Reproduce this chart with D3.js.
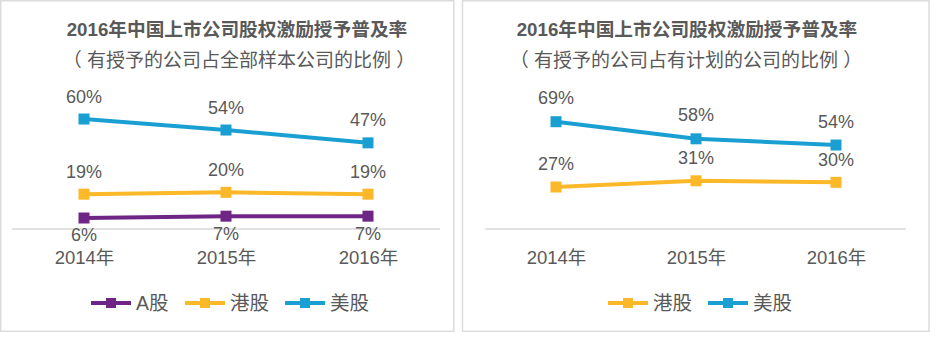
<!DOCTYPE html>
<html><head><meta charset="utf-8">
<script src="https://cdn.jsdelivr.net/npm/d3@7"></script>
<style>
html,body{margin:0;padding:0;background:#fff;}
text{font-family:"Liberation Sans",Arial,"Noto Sans CJK SC",sans-serif;fill:#595959;}
</style></head>
<body><svg id="c" width="940" height="359"></svg>
<script>
const years = ["2014年", "2015年", "2016年"];
const aShare = [0.06, 0.07, 0.07];
const hkAll = [0.19, 0.20, 0.19];
const usAll = [0.60, 0.54, 0.47];
const hkPlan = [0.27, 0.31, 0.30];
const usPlan = [0.69, 0.58, 0.54];
const title = "2016年中国上市公司股权激励授予普及率";
const subLeft = "（ 有授予的公司占全部样本公司的比例 ）";
const subRight = "（ 有授予的公司占有计划的公司的比例 ）";
const C = {a: "#6E2585", hk: "#FBB829", us: "#1A9FD3"};

const svg = d3.select("#c");
const fmt = d3.format(".0%");

function panel(cfg) {
  const g = svg.append("g");
  g.append("rect").attr("x", cfg.bx).attr("y", 0.75).attr("width", cfg.bw).attr("height", 330.5)
    .attr("fill", "#fff").attr("stroke", "#DCDCDC").attr("stroke-width", 1.5);
  g.append("text").attr("x", cfg.tc).attr("y", 36).attr("text-anchor", "middle")
    .attr("font-size", 18.7).attr("font-weight", "bold")
    .text(title);
  g.append("text").attr("x", cfg.sc).attr("y", 67).attr("text-anchor", "middle")
    .attr("font-size", 19)
    .text(cfg.sub);
  const x = d3.scalePoint().domain(years).range(cfg.xr);
  const y = d3.scaleLinear().domain([0, cfg.ymax]).range([229, 229 - cfg.h]);
  g.append("line").attr("x1", cfg.ax[0]).attr("x2", cfg.ax[1]).attr("y1", 229).attr("y2", 229)
    .attr("stroke", "#D9D9D9").attr("stroke-width", 1.5);
  const xa = g.append("g").attr("transform", "translate(0,229)")
    .call(d3.axisBottom(x).tickSize(0).tickPadding(22));
  xa.select(".domain").remove();
  xa.selectAll("text").attr("font-size", 18.5).attr("fill", "#595959")
    .style("font-family", '"Liberation Sans",Arial,"Noto Sans CJK SC",sans-serif');
  const line = d3.line().x((d, i) => x(years[i])).y(d => y(d));
  cfg.series.forEach(s => {
    g.append("path").datum(s.values).attr("d", line).attr("fill", "none")
      .attr("stroke", s.color).attr("stroke-width", 4);
    g.selectAll(null).data(s.values).enter().append("rect")
      .attr("x", (d, i) => x(years[i]) - 5.5).attr("y", d => y(d) - 5.5)
      .attr("width", 11).attr("height", 11).attr("fill", s.color);
    g.selectAll(null).data(s.values).enter().append("text")
      .attr("x", (d, i) => x(years[i])).attr("y", d => y(d) + s.dy)
      .attr("dy", "0.36em").attr("text-anchor", "middle").attr("font-size", 18)
      .text(d => fmt(d));
  });
  // legend
  let lx = cfg.lx;
  cfg.series.forEach(s => {
    g.append("line").attr("x1", lx).attr("x2", lx + 40).attr("y1", 303).attr("y2", 303)
      .attr("stroke", s.color).attr("stroke-width", 4);
    g.append("rect").attr("x", lx + 15).attr("y", 298).attr("width", 10).attr("height", 10).attr("fill", s.color);
    g.append("text").attr("x", lx + 45).attr("y", 303).attr("dy", "0.36em").attr("font-size", 19.5).text(s.name);
    lx += 45 + (s.name === "A股" ? 49 : 55);
  });
}

panel({bx: 0.75, bw: 453, tc: 237, sc: 239, sub: subLeft, xr: [84, 368], ax: [12, 440], ymax: 0.7, h: 128.3, lx: 91,
  series: [
    {name: "A股", values: aShare, color: C.a, dy: 17},
    {name: "港股", values: hkAll, color: C.hk, dy: -23},
    {name: "美股", values: usAll, color: C.us, dy: -23}
  ]});
panel({bx: 462.5, bw: 466.5, tc: 687, sc: 686, sub: subRight, xr: [556, 836], ax: [485, 906], ymax: 0.8, h: 124.4, lx: 608,
  series: [
    {name: "港股", values: hkPlan, color: C.hk, dy: -23},
    {name: "美股", values: usPlan, color: C.us, dy: -24}
  ]});
</script></body></html>
